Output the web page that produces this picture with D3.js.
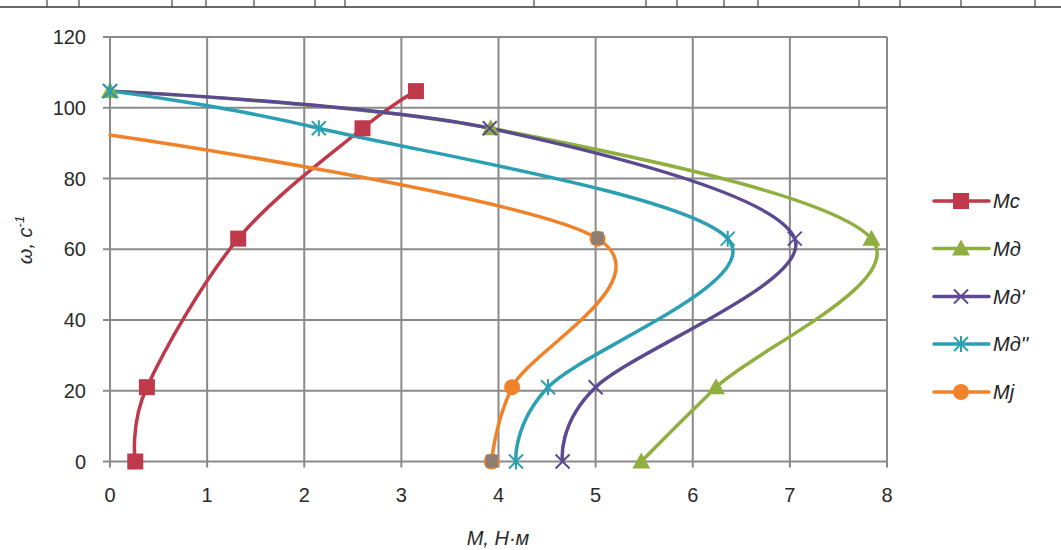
<!DOCTYPE html>
<html><head><meta charset="utf-8">
<script src="https://cdn.jsdelivr.net/npm/d3@7"></script>
<style>body{margin:0;background:#fff}svg{display:block}</style>
</head><body>
<svg id="c" width="1061" height="550"></svg>
<script>
// ---- data ----
const seriesNames = ["Mc", "Mд", "Mд'", "Mд''", "Mj"];
const mcM  = [0.26, 0.38, 1.32, 2.60, 3.15];
const mcW  = [0, 21, 63, 94.2, 104.7];
const mdM  = [5.47, 6.24, 7.84, 3.92, 0];
const mdW  = [0, 21, 63, 94.2, 104.7];
const md1M = [4.66, 5.00, 7.05, 3.91, 0];
const md1W = [0, 21, 63, 94.2, 104.7];
const md2M = [4.18, 4.51, 6.36, 2.15, 0];
const md2W = [0, 21, 63, 94.2, 104.7];
const mjM  = [3.93, 4.14, 5.02, 0];
const mjW  = [0, 21, 63, 92.3];
const xTicks = [0, 1, 2, 3, 4, 5, 6, 7, 8];
const yTicks = [0, 20, 40, 60, 80, 100, 120];

const colors = ["#c0394b", "#8fb040", "#5b4a90", "#2ba0b2", "#f0832a"];
const markers = ["square", "triangle", "x", "star", "circle"];
const data = [[mcM, mcW], [mdM, mdW], [md1M, md1W], [md2M, md2W], [mjM, mjW]];
const markerCount = [5, 5, 5, 5, 3];

const svg = d3.select("#c");
const x = d3.scaleLinear().domain([0, 8]).range([110, 887]);
const y = d3.scaleLinear().domain([0, 120]).range([461.5, 37]);

// top scan artifact
svg.append("line").attr("x1", 0).attr("x2", 1061).attr("y1", 7).attr("y2", 7).attr("stroke", "#333").attr("stroke-width", 1.5);
[47, 79, 172, 206, 254, 315, 345, 534, 646, 677, 724, 758, 859, 900, 961, 1035].forEach(v => {
  svg.append("line").attr("x1", v).attr("x2", v).attr("y1", 0).attr("y2", 7).attr("stroke", "#444").attr("stroke-width", 1.2);
});

// grid
const g = svg.append("g");
g.selectAll(".gx").data(xTicks).join("line")
  .attr("x1", d => x(d)).attr("x2", d => x(d)).attr("y1", y(120)).attr("y2", y(0) + 6)
  .attr("stroke", "#8a8a8a").attr("stroke-width", 2);
g.selectAll(".gy").data(yTicks).join("line")
  .attr("x1", x(0) - 7).attr("x2", x(8)).attr("y1", d => y(d)).attr("y2", d => y(d))
  .attr("stroke", "#8a8a8a").attr("stroke-width", 2);

// tick labels
const font = "'Liberation Sans', Arial, sans-serif";
g.selectAll(".tx").data(xTicks).join("text")
  .attr("x", d => x(d)).attr("y", 502).attr("text-anchor", "middle")
  .attr("font-family", font).attr("font-size", 20).attr("fill", "#2a2a2a").text(d => d);
g.selectAll(".ty").data(yTicks).join("text")
  .attr("x", 86).attr("y", d => y(d) + 7).attr("text-anchor", "end")
  .attr("font-family", font).attr("font-size", 20).attr("fill", "#2a2a2a").text(d => d);

// axis titles
svg.append("text").attr("x", 498).attr("y", 545).attr("text-anchor", "middle")
  .attr("font-family", font).attr("font-size", 20).attr("font-style", "italic").attr("fill", "#2a2a2a")
  .text("M, Н·м");
const yt = svg.append("text").attr("transform", "translate(32,240) rotate(-90)").attr("text-anchor", "middle")
  .attr("font-family", font).attr("font-size", 20).attr("font-style", "italic").attr("fill", "#2a2a2a");
yt.append("tspan").text("ω, с");
yt.append("tspan").attr("font-size", 13).attr("dy", -8).text("-1");

// marker drawing
function drawMarker(sel, type, color, cx, cy) {
  const m = sel.append("g").attr("transform", `translate(${cx},${cy})`);
  if (type === "square") {
    m.append("rect").attr("x", -8).attr("y", -8).attr("width", 16).attr("height", 16).attr("fill", color);
  } else if (type === "triangle") {
    m.append("path").attr("d", "M0,-9L9,7L-9,7Z").attr("fill", color);
  } else if (type === "x") {
    m.append("path").attr("d", "M-7,-7L7,7M-7,7L7,-7").attr("stroke", color).attr("stroke-width", 2).attr("fill", "none");
  } else if (type === "star") {
    m.append("path").attr("d", "M-7,-7L7,7M-7,7L7,-7M0,-8L0,8").attr("stroke", color).attr("stroke-width", 2).attr("fill", "none");
  } else if (type === "circle") {
    m.append("circle").attr("r", 8).attr("fill", color);
  }
}

// series
const line = d3.line().curve(d3.curveCatmullRom.alpha(0)).x(d => x(d[0])).y(d => y(d[1]));
data.forEach((s, i) => {
  const pts = s[0].map((v, k) => [v, s[1][k]]);
  svg.append("path").attr("d", line(pts)).attr("fill", "none")
    .attr("stroke", colors[i]).attr("stroke-width", 3.5).attr("stroke-linecap", "round");
});
data.forEach((s, i) => {
  const pts = s[0].map((v, k) => [v, s[1][k]]).slice(0, markerCount[i]);
  pts.forEach(p => drawMarker(svg, markers[i], colors[i], x(p[0]), y(p[1])));
});
// greyish overprinted markers on Mj (as in scan)
[[mjM[0], mjW[0]], [mjM[2], mjW[2]]].forEach(p => {
  svg.append("rect").attr("x", x(p[0]) - 6).attr("y", y(p[1]) - 7).attr("width", 12).attr("height", 13).attr("fill", "#8c7f72");
});

// legend
const legY = [201, 248.5, 296.5, 344, 392];
seriesNames.forEach((n, i) => {
  const lg = svg.append("g");
  lg.append("line").attr("x1", 934).attr("x2", 989).attr("y1", legY[i]).attr("y2", legY[i])
    .attr("stroke", colors[i]).attr("stroke-width", 3.5).attr("stroke-linecap", "round");
  drawMarker(lg, markers[i], colors[i], 961, legY[i]);
  lg.append("text").attr("x", 993).attr("y", legY[i] + 7).attr("font-family", font)
    .attr("font-size", 20).attr("font-style", "italic").attr("fill", "#222").text(n);
});
</script>
</body></html>
